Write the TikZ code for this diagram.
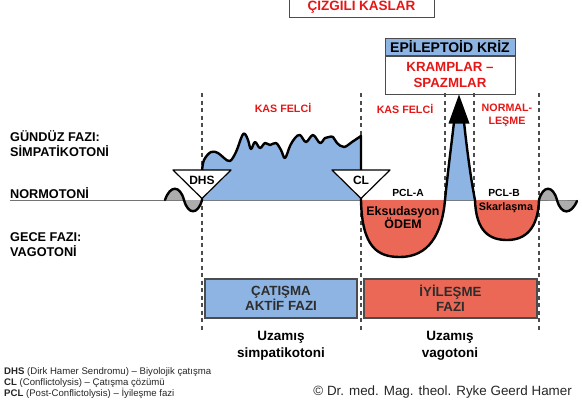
\documentclass[tikz,border=0pt]{standalone}
\usepackage{fontspec}
\setmainfont{Liberation Sans}
\usepackage{tikz}
\usetikzlibrary{arrows.meta,positioning,calc}

\definecolor{phaseblue}{RGB}{141,180,226}
\definecolor{phasered}{RGB}{236,104,86}
\definecolor{labelred}{RGB}{230,22,22}
\definecolor{wavegray}{RGB}{172,172,172}
\definecolor{darktext}{RGB}{45,45,45}

\begin{document}
\begin{tikzpicture}[x=1pt, y=-1pt,
  every node/.style={inner sep=0pt, font=\bfseries},
  sidelabel/.style={anchor=west, align=left, font=\bfseries\fontsize{12.7}{15}\selectfont},
  redlabel/.style={text=labelred, align=center, font=\bfseries\fontsize{10.7}{13}\selectfont},
  marker/.style={font=\bfseries\fontsize{12}{14}\selectfont},
  pcllabel/.style={align=center, font=\bfseries\fontsize{10.3}{12}\selectfont},
  phasebox/.style={draw=black!70, line width=1.2pt, minimum height=39pt, align=center, text=darktext, font=\bfseries\fontsize{13.3}{15}\selectfont},
  guide/.style={dash pattern=on 4pt off 3.5pt, line width=1.1pt, black!70},
  curve/.style={line width=2.4pt, line join=round, line cap=round},
  trianglemark/.style={draw, line width=1.2pt, fill=white, line join=round}]
  \useasboundingbox (0,0) rectangle (582,407);

  \node[draw=black!70, line width=1pt, minimum width=145pt, minimum height=22pt, text=labelred, font=\bfseries\fontsize{13.5}{15}\selectfont] (cizgili) at (361.5,6) {ÇİZGİLİ KASLAR};
  \node[draw=black!70, line width=1pt, fill=phaseblue, minimum width=130pt, minimum height=17pt, font=\bfseries\fontsize{14}{16}\selectfont] (epi) at (450,46.5) {EPİLEPTOİD KRİZ};
  \node[draw=black!70, line width=1pt, minimum width=130pt, minimum height=38pt, text=labelred, align=center, font=\bfseries\fontsize{13.3}{16.5}\selectfont, below=0pt of epi] (kramp) {KRAMPLAR –\\SPAZMLAR};

  \node[sidelabel] (gunduz) at (10,143.5) {GÜNDÜZ FAZI:\\SİMPATİKOTONİ};
  \node[sidelabel] (normo) at (10,193) {NORMOTONİ};
  \node[sidelabel] (gece) at (10,244.5) {GECE FAZI:\\VAGOTONİ};

  \draw[black!55, line width=1pt] (10,200) -- (578,200);
  \foreach \gx/\gy in {202/330, 361/330, 445/200, 474/200, 539/330}
    \draw[guide] (\gx,93) -- (\gx,\gy);

  \fill[wavegray] (165,200) .. controls (170,185) and (180,185) .. (184,200) .. controls (188,215) and (198,215) .. (202,200) -- cycle;
  \fill[wavegray] (539,200) .. controls (543,185) and (553,185) .. (557,200) .. controls (561,215) and (571,215) .. (577,201) -- cycle;
  \fill[phaseblue] (202,200) -- (202,171) -- plot[smooth, tension=0.6] coordinates {(202,171) (204,160) (211,152) (218,153) (224,158) (230,161) (236,152) (242,136) (245,134) (248,140) (251,149) (255,142) (260,148) (265,143) (270,145) (276,143) (281,150) (285,158) (290,146) (295,138) (300,135) (306,142) (313,135) (320,143) (325,138) (329,137) (333,137) (337,143) (344,147) (352,142) (361,136)} -- (361,200) -- cycle;
  \fill[phaseblue] (445,200) .. controls (448,170) and (452,140) .. (454,122) -- (464,122) .. controls (467,150) and (471,180) .. (475,200) -- cycle;
  \fill[phasered] (361,200) .. controls (362,248) and (378,257) .. (400,257) .. controls (428,257) and (442,235) .. (445,200) -- cycle;
  \fill[phasered] (475,200) .. controls (476,232) and (490,240) .. (507,240) .. controls (526,240) and (538,228) .. (539,200) -- cycle;

  \draw[curve] (165,200) .. controls (170,185) and (180,185) .. (184,200) .. controls (188,215) and (198,215) .. (202,200) -- (202,171)
    -- plot[smooth, tension=0.6] coordinates {(202,171) (204,160) (211,152) (218,153) (224,158) (230,161) (236,152) (242,136) (245,134) (248,140) (251,149) (255,142) (260,148) (265,143) (270,145) (276,143) (281,150) (285,158) (290,146) (295,138) (300,135) (306,142) (313,135) (320,143) (325,138) (329,137) (333,137) (337,143) (344,147) (352,142) (361,136)}
    -- (361,200) .. controls (362,248) and (378,257) .. (400,257) .. controls (428,257) and (442,235) .. (445,200) .. controls (448,170) and (452,140) .. (454,122);
  \draw[curve] (464,122) .. controls (467,150) and (471,180) .. (475,200) .. controls (476,232) and (490,240) .. (507,240) .. controls (526,240) and (538,228) .. (539,200) .. controls (543,185) and (553,185) .. (557,200) .. controls (561,215) and (571,215) .. (577,201);
  \coordinate (tip) at ([xshift=9pt]kramp.south);
  \fill (tip) -- ++(10.5,29) -- ++(-21,0) -- cycle;

  \draw[trianglemark] (173,170) -- (231,170) -- (202,198.5) -- cycle;
  \draw[trianglemark] (332,170) -- (390,170) -- (361,198.5) -- cycle;
  \node[marker] (dhs) at (202,180) {DHS};
  \node[marker] (cl) at (361,180) {CL};

  \node[redlabel] (felci1) at (283,108) {KAS FELCİ};
  \node[redlabel] (felci2) at (405,109) {KAS FELCİ};
  \node[redlabel] (normal) at (507,115.5) {NORMAL-\\LEŞME};

  \node[pcllabel] (pcla) at (408,193) {PCL-A};
  \node[pcllabel] (pclb) at (504,193) {PCL-B};
  \node[align=center, font=\bfseries\fontsize{12.4}{13.5}\selectfont] (odem) at (403,217.5) {Eksudasyon\\ÖDEM};
  \node[font=\bfseries\fontsize{10.8}{12}\selectfont] (skar) at (506,207.5) {Skarlaşma};

  \node[phasebox, fill=phaseblue, minimum width=152pt] (active) at (281,298.5) {ÇATIŞMA\\AKTİF FAZI};
  \node[phasebox, fill=phasered, minimum width=173pt] (heal) at (450.5,298.5) {İYİLEŞME\\FAZI};

  \node[align=center, font=\bfseries\fontsize{13.5}{16.5}\selectfont] (uzsimp) at (281,346) {Uzamış\\simpatikotoni};
  \node[align=center, font=\bfseries\fontsize{13.5}{16.5}\selectfont] (uzvago) at (450,346) {Uzamış\\vagotoni};

  \node[anchor=west, align=left, text=black!85, font=\fontsize{9.6}{11}\selectfont] (legend) at (4,383) {\textbf{DHS} (Dirk Hamer Sendromu) – Biyolojik çatışma\\\textbf{CL} (Conflictolysis) – Çatışma çözümü\\\textbf{PCL} (Post-Conflictolysis) – İyileşme fazi};
  \node[anchor=east, text=black!85, font=\fontsize{13.4}{15}\selectfont] (copyr) at (572,392) {© Dr. med. Mag. theol. Ryke Geerd Hamer};
\end{tikzpicture}
\end{document}
